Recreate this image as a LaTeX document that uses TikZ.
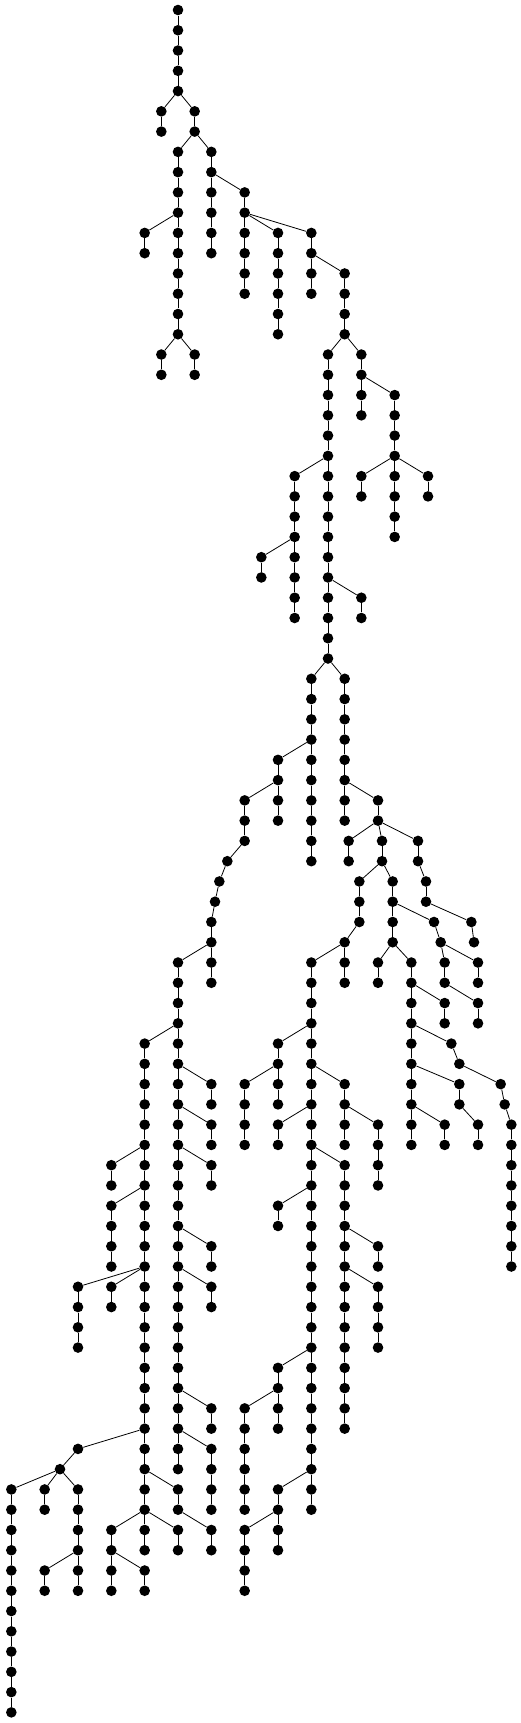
\documentclass[tikz,border=0pt]{standalone}
\usepackage{tikz}
\tikzset{
  dot/.style={circle,fill=black,draw=none,inner sep=0pt,minimum size=10.6pt},
  edge/.style={line width=0.8pt,black},
}
% one straight run of dots: id, column, first level, last level, parent node
\newcommand\limb[5]{%
  \foreach \l in {#3,...,#4}{%
    \node[dot] (#1-\l) at (#2,\l) {};
    \ifnum\l=#3\relax
      \ifx\relax#5\relax\else\draw[edge] (#5) -- (#1-\l);\fi
    \else
      \pgfmathtruncatemacro\prevl{\l-1}%
      \draw[edge] (#1-\prevl) -- (#1-\l);
    \fi}}

\begin{document}
\begin{tikzpicture}[x=16.667pt,y=-20.266pt]
\useasboundingbox (-0.68,-0.4934) rectangle (30.52,84.525);
% top part
\limb{b1}{10}{0}{4}{}
\limb{b2}{9}{5}{6}{b1-4}
\limb{b3}{11}{5}{6}{b1-4}
\limb{b4}{10}{7}{16}{b3-6}
\limb{b5}{8}{11}{12}{b4-10}
\limb{b6}{9}{17}{18}{b4-16}
\limb{b7}{11}{17}{18}{b4-16}
\limb{b8}{12}{7}{12}{b3-6}
\limb{b9}{14}{9}{14}{b8-8}
\limb{b10}{16}{11}{16}{b9-10}
\limb{b11}{18}{11}{14}{b9-10}
\limb{b12}{20}{13}{16}{b11-12}
\limb{b13}{19}{17}{32}{b12-16}
\limb{b14}{21}{17}{20}{b12-16}
\limb{b15}{23}{19}{26}{b14-18}
\limb{b16}{21}{23}{24}{b15-22}
\limb{b17}{25}{23}{24}{b15-22}
\limb{b18}{17}{23}{30}{b13-22}
\limb{b19}{15}{27}{28}{b18-26}
\limb{b20}{21}{29}{30}{b13-28}
% middle part
\limb{b21}{18}{33}{42}{b13-32}
\limb{b22}{20}{33}{40}{b13-32}
\limb{b23}{16}{37}{40}{b21-36}
\limb{b24}{14}{39}{41}{b23-38}
\limb{b25}{22}{39}{40}{b22-38}
\limb{b26}{20.24}{41}{42}{b25-40}
\limb{b27}{22.24}{41}{42}{b25-40}
\limb{b28}{24.4}{41}{42}{b25-40}
\limb{b29}{12.96}{42}{42}{b24-41}
\limb{b30}{12.48}{43}{43}{b29-42}
\limb{b31}{12.22}{44}{44}{b30-43}
\limb{b32}{12}{45}{48}{b31-44}
\limb{b33}{20.88}{43}{45}{b27-42}
\limb{b34}{22.88}{43}{46}{b27-42}
\limb{b35}{24.88}{43}{44}{b28-42}
\limb{b36}{27.6}{45}{45}{b35-44}
\limb{b37}{27.76}{46}{46}{b36-45}
\limb{b38}{25.36}{45}{45}{b34-44}
\limb{b39}{25.76}{46}{46}{b38-45}
\limb{b40}{26}{47}{48}{b39-46}
\limb{b41}{28}{47}{48}{b39-46}
\limb{b42}{28}{49}{50}{b40-48}
\limb{b43}{22}{47}{48}{b34-46}
\limb{b44}{24}{47}{56}{b34-46}
\limb{b45}{26}{49}{50}{b44-48}
\limb{b46}{26.4}{51}{51}{b44-50}
\limb{b47}{26.88}{52}{52}{b46-51}
\limb{b48}{29.36}{53}{53}{b47-52}
\limb{b49}{29.6}{54}{54}{b48-53}
\limb{b50}{30}{55}{62}{b49-54}
\limb{b51}{26.88}{53}{54}{b44-52}
\limb{b52}{28}{55}{56}{b51-54}
\limb{b53}{26}{55}{56}{b44-54}
% lower right
\limb{b54}{20}{46}{48}{b33-45}
\limb{b55}{18}{47}{74}{b54-46}
\limb{b56}{16}{51}{54}{b55-50}
\limb{b57}{14}{53}{56}{b56-52}
\limb{b58}{20}{53}{56}{b55-52}
\limb{b59}{22}{55}{58}{b58-54}
\limb{b60}{16}{55}{56}{b55-54}
\limb{b61}{20}{57}{70}{b55-56}
\limb{b62}{22}{61}{62}{b61-60}
\limb{b63}{22}{63}{66}{b61-62}
\limb{b64}{16}{59}{60}{b55-58}
\limb{b65}{16}{67}{70}{b55-66}
\limb{b66}{14}{69}{74}{b65-68}
\limb{b67}{16}{73}{76}{b55-72}
\limb{b68}{14}{75}{78}{b67-74}
% lower left
\limb{b69}{10}{47}{72}{b32-46}
\limb{b70}{12}{53}{54}{b69-52}
\limb{b71}{12}{55}{56}{b69-54}
\limb{b72}{12}{57}{58}{b69-56}
\limb{b73}{12}{61}{62}{b69-60}
\limb{b74}{12}{63}{64}{b69-62}
\limb{b75}{12}{69}{70}{b69-68}
\limb{b76}{12}{71}{74}{b69-70}
\limb{b77}{8}{51}{76}{b69-50}
\limb{b78}{6}{57}{58}{b77-56}
\limb{b79}{6}{59}{62}{b77-58}
\limb{b80}{4}{63}{66}{b77-62}
\limb{b81}{6}{63}{64}{b77-62}
\limb{b82}{4}{71}{71}{b77-70}
\limb{b83}{2.92}{72}{72}{b82-71}
\limb{b84}{0}{73}{84}{b83-72}
\limb{b85}{2}{73}{74}{b83-72}
\limb{b86}{4}{73}{78}{b83-72}
\limb{b87}{2}{77}{78}{b86-76}
\limb{b88}{10}{73}{74}{b77-72}
\limb{b89}{12}{75}{76}{b88-74}
\limb{b90}{6}{75}{78}{b77-74}
\limb{b91}{10}{75}{76}{b77-74}
\limb{b92}{8}{77}{78}{b90-76}
\end{tikzpicture}
\end{document}
